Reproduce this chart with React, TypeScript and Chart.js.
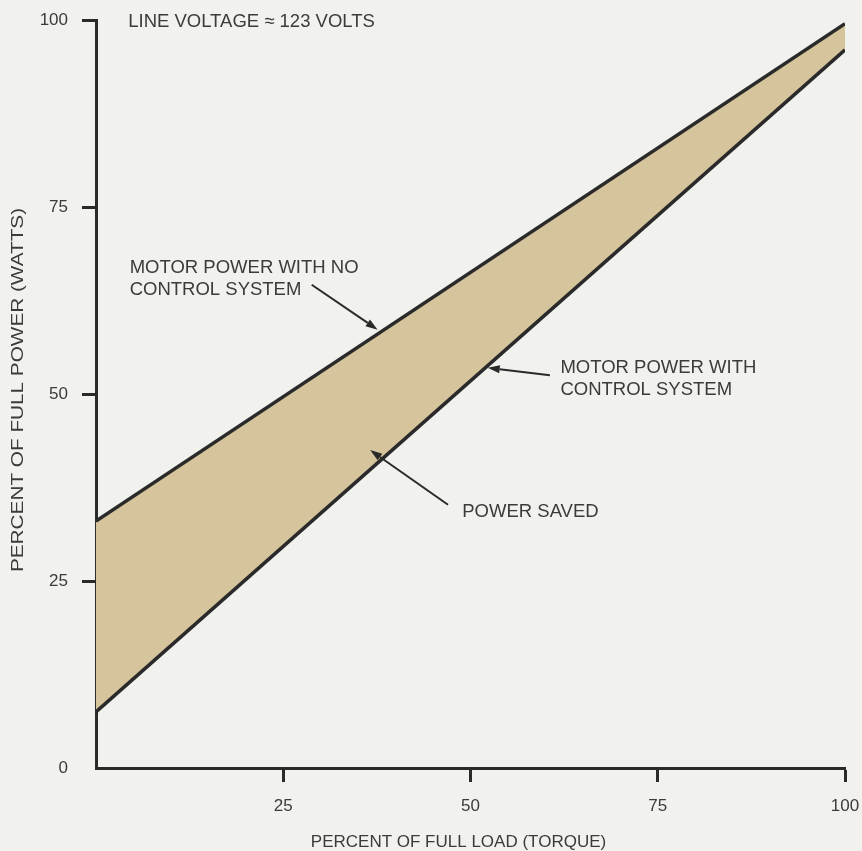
import React, { useEffect, useRef } from "react";
import { Chart, registerables } from "chart.js";

Chart.register(...registerables);

// Data
const loadPoints = [0, 100];
const powerNoControl = [33, 99.5];
const powerWithControl = [7.5, 96];
const xTicks = [25, 50, 75, 100];
const yTicks = [0, 25, 50, 75, 100];
const xTitle = "PERCENT OF FULL LOAD (TORQUE)";
const yTitle = "PERCENT OF FULL POWER (WATTS)";

// Annotations (data coordinates)
const noteTexts = [
  { x: 4.3, y: 99.7, lines: ["LINE VOLTAGE \u2248 123 VOLTS"] },
  { x: 4.5, y: 66.8, lines: ["MOTOR POWER WITH NO", "CONTROL SYSTEM"] },
  { x: 62.0, y: 53.5, lines: ["MOTOR POWER WITH", "CONTROL SYSTEM"] },
  { x: 48.9, y: 34.2, lines: ["POWER SAVED"] },
];
const noteArrows = [
  { x1: 28.8, y1: 64.6, x2: 37.6, y2: 58.6 },
  { x1: 60.6, y1: 52.5, x2: 52.3, y2: 53.5 },
  { x1: 47.0, y1: 35.2, x2: 36.6, y2: 42.5 },
];

const BG = "#f1f2ee";
const INK = "#2a2a2a";
const TEXT = "#3b3b3b";
const FILL = "#d5c49c";
const FONT = "'Liberation Sans', Arial, sans-serif";

const annotationPlugin = {
  id: "notes",
  afterDatasetsDraw(chart: any) {
    const { ctx, scales, chartArea, height } = chart;
    const xs = scales.x;
    const ys = scales.y;
    ctx.save();
    ctx.fillStyle = TEXT;
    ctx.font = `18.5px ${FONT}`;
    ctx.textBaseline = "middle";
    ctx.textAlign = "left";
    for (const t of noteTexts) {
      const px = xs.getPixelForValue(t.x);
      const py = ys.getPixelForValue(t.y);
      t.lines.forEach((l, i) => ctx.fillText(l, px, py + i * 22));
    }
    ctx.strokeStyle = INK;
    ctx.fillStyle = INK;
    ctx.lineWidth = 2;
    for (const a of noteArrows) {
      const x1 = xs.getPixelForValue(a.x1);
      const y1 = ys.getPixelForValue(a.y1);
      const x2 = xs.getPixelForValue(a.x2);
      const y2 = ys.getPixelForValue(a.y2);
      const ang = Math.atan2(y2 - y1, x2 - x1);
      const hl = 12;
      const hw = 4;
      const bx = x2 - hl * Math.cos(ang);
      const by = y2 - hl * Math.sin(ang);
      ctx.beginPath();
      ctx.moveTo(x1, y1);
      ctx.lineTo(bx, by);
      ctx.stroke();
      ctx.beginPath();
      ctx.moveTo(x2, y2);
      ctx.lineTo(bx + hw * Math.sin(ang), by - hw * Math.cos(ang));
      ctx.lineTo(bx - hw * Math.sin(ang), by + hw * Math.cos(ang));
      ctx.closePath();
      ctx.fill();
    }
    // x-axis title
    ctx.fillStyle = TEXT;
    ctx.font = `17px ${FONT}`;
    ctx.textAlign = "center";
    ctx.textBaseline = "middle";
    ctx.fillText(xTitle, (chartArea.left + chartArea.right) / 2 - 12, height - 9);
    // y-axis title (stretched along its length like the scan)
    ctx.translate(18, (chartArea.top + chartArea.bottom) / 2 - 4);
    ctx.rotate(-Math.PI / 2);
    ctx.scale(1.22, 1);
    ctx.fillText(yTitle, 0, 0);
    ctx.restore();
  },
};

const bgPlugin = {
  id: "bg",
  beforeDraw(chart: any) {
    const { ctx, width, height } = chart;
    ctx.save();
    ctx.fillStyle = BG;
    ctx.fillRect(0, 0, width, height);
    ctx.restore();
  },
};

export default function App() {
  const ref = useRef<HTMLCanvasElement | null>(null);
  useEffect(() => {
    document.body.style.margin = "0";
    document.body.style.background = BG;
    if (!ref.current) return;
    const chart = new Chart(ref.current, {
      type: "line",
      data: {
        datasets: [
          {
            label: "No control",
            data: loadPoints.map((x, i) => ({ x, y: powerNoControl[i] })),
            borderColor: INK,
            borderWidth: 3.5,
            pointRadius: 0,
            fill: false,
          },
          {
            label: "With control",
            data: loadPoints.map((x, i) => ({ x, y: powerWithControl[i] })),
            borderColor: INK,
            borderWidth: 3.5,
            pointRadius: 0,
            backgroundColor: FILL,
            fill: "-1",
          },
        ],
      },
      options: {
        animation: false,
        responsive: false,
        layout: { padding: { top: 20, right: 17, left: 0, bottom: 0 } },
        plugins: { legend: { display: false }, tooltip: { enabled: false } },
        scales: {
          x: {
            type: "linear",
            min: 0,
            max: 100,
            afterBuildTicks: (s: any) => {
              s.ticks = [0, ...xTicks].map((v) => ({ value: v }));
            },
            afterFit: (s: any) => {
              s.height = 83;
              s.paddingRight = 0;
              s.paddingLeft = 0;
            },
            border: { display: true, color: INK, width: 3 },
            grid: {
              drawOnChartArea: false,
              drawTicks: true,
              tickLength: 14,
              tickWidth: 3,
              tickColor: (c: any) => (c.tick && c.tick.value === 0 ? "rgba(0,0,0,0)" : INK),
            },
            ticks: {
              padding: 14,
              color: TEXT,
              font: { size: 17, family: FONT },
              callback: (v: any) => (v === 0 ? "" : String(v)),
            },
            title: { display: false },
          },
          y: {
            type: "linear",
            min: 0,
            max: 100,
            afterBuildTicks: (s: any) => {
              s.ticks = yTicks.map((v) => ({ value: v }));
            },
            afterFit: (s: any) => {
              s.width = 96;
              s.paddingTop = 0;
              s.paddingBottom = 0;
            },
            border: { display: true, color: INK, width: 3 },
            grid: {
              drawOnChartArea: false,
              drawTicks: true,
              tickLength: 14,
              tickWidth: 3,
              tickColor: (c: any) => (c.tick && c.tick.value === 0 ? "rgba(0,0,0,0)" : INK),
            },
            ticks: {
              padding: 14,
              color: TEXT,
              font: { size: 17, family: FONT },
            },
            title: { display: false },
          },
        },
      },
      plugins: [bgPlugin, annotationPlugin],
    } as any);
    return () => chart.destroy();
  }, []);
  return (
    <div style={{ width: 862, height: 851, background: BG }}>
      <canvas ref={ref} width={862} height={851} style={{ display: "block" }} />
    </div>
  );
}
